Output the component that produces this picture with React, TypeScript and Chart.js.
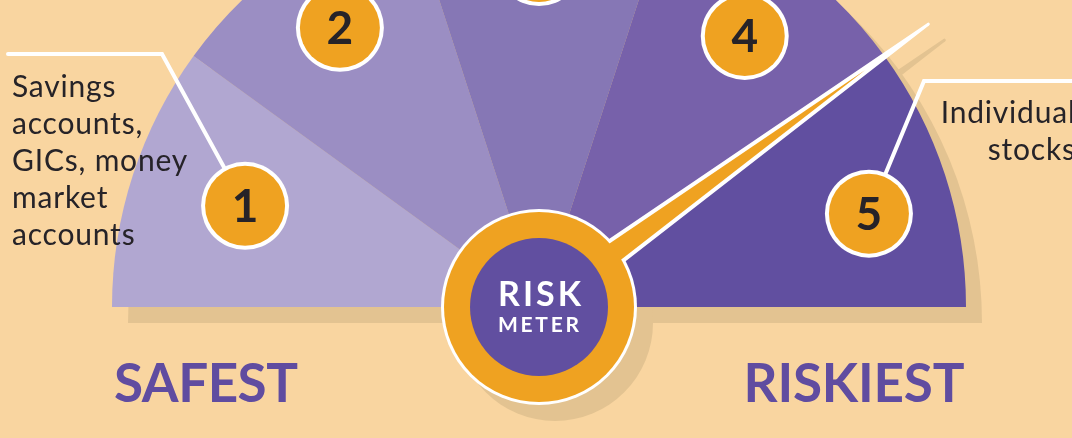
import React, { useEffect, useRef } from "react";
import { Chart, registerables } from "chart.js";

Chart.register(...registerables);

// ---- data ----
const categories = ["1", "2", "3", "4", "5"];
const segmentShare = [1, 1, 1, 1, 1];
const segmentColors = ["#B1A7D1", "#9B8EC3", "#8677B5", "#7761AA", "#614FA0"];
const needleLevel = [4]; // needle sits on the 4 / 5 boundary (out of 5)
const leftNoteLines = ["Savings", "accounts,", "GICs, money", "market", "accounts"];
const rightNoteLines = ["Individual", "stocks"];
const endLabels = ["SAFEST", "RISKIEST"];
const centerLabels = ["RISK", "METER"];

// ---- styles ----
const BG = "#F9D5A0";
const SHADOW = "#E3C391";
const ORANGE = "#EFA221";
const PURPLE = "#614FA0";
const LABEL_PURPLE = "#604CA0";
const INK = "#262328";
const WHITE = "#FFFFFF";
const SH = 16;
const FONT = "Lato, 'Open Sans', sans-serif";

const BADGE_R = [0.728, 0.803, 0.808, 0.797, 0.803];
const BADGE_NUDGE = [1, 0.5, 0, 1.2, 2.2];

function tri(ctx: CanvasRenderingContext2D, cx: number, cy: number, ang: number, len: number, hw: number) {
  const ux = Math.cos(ang), uy = Math.sin(ang);
  const px = -uy, py = ux;
  ctx.beginPath();
  ctx.moveTo(cx + px * hw, cy + py * hw);
  ctx.lineTo(cx + ux * len, cy + uy * len);
  ctx.lineTo(cx - px * hw, cy - py * hw);
  ctx.closePath();
}

function circle(ctx: CanvasRenderingContext2D, x: number, y: number, r: number, color: string) {
  ctx.beginPath();
  ctx.arc(x, y, r, 0, Math.PI * 2);
  ctx.fillStyle = color;
  ctx.fill();
}

function fittedText(ctx: CanvasRenderingContext2D, text: string, x: number, y: number, target: number, align: "left" | "right" | "center") {
  ctx.save();
  ctx.letterSpacing = "0px";
  const w = ctx.measureText(text).width;
  const n = text.length;
  const ls = n > 1 ? (target - w) / (n - 1) : 0;
  ctx.letterSpacing = ls + "px";
  let left = x;
  if (align === "right") left = x - target;
  if (align === "center") left = x - target / 2;
  ctx.textAlign = "left";
  ctx.fillText(text, left, y);
  ctx.restore();
}

function spacedText(ctx: CanvasRenderingContext2D, text: string, x: number, y: number, ls: number, align: "left" | "right") {
  ctx.save();
  ctx.letterSpacing = "0px";
  const w = ctx.measureText(text).width + ls * (text.length - 1);
  ctx.letterSpacing = ls + "px";
  ctx.textAlign = "left";
  ctx.fillText(text, align === "right" ? x - w : x, y);
  ctx.restore();
}

function geom(chart: any) {
  const meta = chart.getDatasetMeta(0);
  const arcs = meta.data as any[];
  const a0 = arcs[0];
  const cx = a0.x, cy = a0.y, R = a0.outerRadius;
  const start = arcs[0].startAngle;
  const end = arcs[arcs.length - 1].endAngle;
  const needleAng = start + (end - start) * (needleLevel[0] / categories.length);
  return { arcs, cx, cy, R, needleAng };
}

const NEEDLE_LEN = 1.127;
const NEEDLE_HW = 15.5;

const decor = {
  id: "riskDecor",
  beforeDatasetsDraw(chart: any) {
    const ctx: CanvasRenderingContext2D = chart.ctx;
    const { cx, cy, R, needleAng } = geom(chart);
    ctx.save();
    ctx.fillStyle = SHADOW;
    ctx.beginPath();
    ctx.moveTo(cx + SH - R, cy + SH);
    ctx.arc(cx + SH, cy + SH, R, Math.PI, Math.PI * 2);
    ctx.closePath();
    ctx.fill();
    tri(ctx, cx + SH, cy + SH, needleAng, R * NEEDLE_LEN, NEEDLE_HW);
    ctx.lineJoin = "round";
    ctx.lineWidth = 3;
    ctx.strokeStyle = SHADOW;
    ctx.fill();
    ctx.stroke();
    circle(ctx, cx + SH, cy + SH, 98, SHADOW);
    ctx.restore();
  },
  afterDatasetsDraw(chart: any) {
    const ctx: CanvasRenderingContext2D = chart.ctx;
    const { arcs, cx, cy, R, needleAng } = geom(chart);
    ctx.save();

    const badges = arcs.map((a: any, i: number) => {
      const mid = (a.startAngle + a.endAngle) / 2 + (BADGE_NUDGE[i] * Math.PI) / 180;
      const r = R * BADGE_R[i];
      return { x: cx + Math.cos(mid) * r, y: cy + Math.sin(mid) * r };
    });

    // callout lines
    ctx.strokeStyle = WHITE;
    ctx.lineWidth = 4;
    ctx.lineCap = "round";
    ctx.lineJoin = "miter";
    const b1 = badges[0];
    ctx.beginPath();
    ctx.moveTo(cx - R - 104, cy - 253);
    ctx.lineTo(cx - R + 50, cy - 253);
    ctx.lineTo(b1.x, b1.y);
    ctx.stroke();
    const b5 = badges[4];
    ctx.beginPath();
    ctx.moveTo(b5.x, b5.y);
    ctx.lineTo(cx + R - 42, cy - 226);
    ctx.lineTo(cx + R + 140, cy - 226);
    ctx.stroke();

    // badges
    badges.forEach((b: any, i: number) => {
      circle(ctx, b.x, b.y, 44, WHITE);
      circle(ctx, b.x, b.y, 40, ORANGE);
      ctx.fillStyle = INK;
      ctx.font = `bold 46px ${FONT}`;
      ctx.textAlign = "center";
      ctx.textBaseline = "alphabetic";
      ctx.fillText(categories[i], b.x, b.y + 16.5);
    });

    // needle + centre
    ctx.lineJoin = "round";
    ctx.fillStyle = WHITE;
    ctx.strokeStyle = WHITE;
    ctx.lineWidth = 3;
    tri(ctx, cx, cy, needleAng, R * NEEDLE_LEN, NEEDLE_HW);
    ctx.fill();
    ctx.stroke();
    circle(ctx, cx, cy, 98, WHITE);
    ctx.fillStyle = ORANGE;
    tri(ctx, cx, cy, needleAng, R * NEEDLE_LEN - 78, NEEDLE_HW - 2.6);
    ctx.fill();
    circle(ctx, cx, cy, 95, ORANGE);
    circle(ctx, cx, cy, 69, PURPLE);

    // centre text
    ctx.fillStyle = WHITE;
    ctx.textBaseline = "alphabetic";
    ctx.font = `bold 34px ${FONT}`;
    fittedText(ctx, centerLabels[0], cx + 0.5, cy - 1, 83, "center");
    ctx.font = `bold 21px ${FONT}`;
    fittedText(ctx, centerLabels[1], cx - 0.5, cy + 25, 81, "center");

    // end labels
    ctx.fillStyle = LABEL_PURPLE;
    ctx.font = `bold 53px ${FONT}`;
    fittedText(ctx, endLabels[0], cx - R + 2, cy + 95, 184, "left");
    fittedText(ctx, endLabels[1], cx + R - 1.5, cy + 95, 221, "right");

    // notes
    ctx.fillStyle = INK;
    ctx.font = `30px ${FONT}`;
    leftNoteLines.forEach((t, i) => spacedText(ctx, t, 12, 97 + i * 37, 0.8, "left"));
    rightNoteLines.forEach((t, i) => spacedText(ctx, t, 1075, 123 + i * 36.6, 0.8, "right"));

    ctx.restore();
  },
};

export default function App() {
  const ref = useRef<HTMLCanvasElement | null>(null);
  useEffect(() => {
    if (!ref.current) return;
    const chart = new Chart(ref.current, {
      type: "doughnut",
      data: {
        labels: categories,
        datasets: [
          {
            data: segmentShare,
            backgroundColor: segmentColors,
            borderWidth: 0,
            clip: false as any,
          },
        ],
      },
      options: {
        animation: false,
        responsive: false,
        rotation: -90,
        circumference: 180,
        cutout: 0,
        radius: 427,
        events: [],
        layout: { padding: { left: 6, right: 0, top: 0, bottom: 251 } },
        plugins: { legend: { display: false }, tooltip: { enabled: false } },
      } as any,
      plugins: [decor as any],
    });
    return () => chart.destroy();
  }, []);
  return (
    <div
      style={{
        position: "fixed",
        left: 0,
        top: 0,
        width: 1072,
        height: 438,
        overflow: "hidden",
        background: BG,
      }}
    >
      <canvas ref={ref} width={1072} height={438} style={{ display: "block", width: 1072, height: 438 }} />
    </div>
  );
}
